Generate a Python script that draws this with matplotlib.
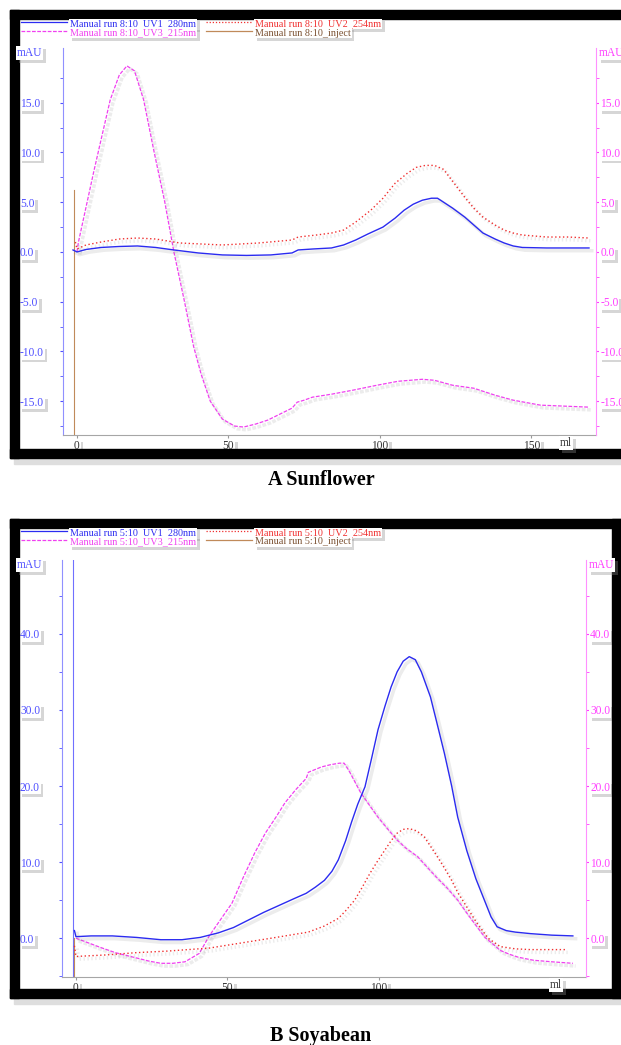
import matplotlib
matplotlib.use("Agg")
import matplotlib.pyplot as plt
import matplotlib.patheffects as pe
from matplotlib.patches import Rectangle
from matplotlib.lines import Line2D
from matplotlib.ticker import FixedLocator, FormatStrFormatter

plt.rcParams['font.family'] = ['Liberation Serif', 'DejaVu Serif']
plt.rcParams['axes.unicode_minus'] = False

# --- data: A Sunflower (run 8:10) ---
a_uv1_x = [-1.3, 0, 3, 8, 14, 20, 26, 32, 40, 48, 56, 64, 71, 73, 78, 84, 88, 92, 96, 101, 105, 108,
           111, 114, 117, 119, 121, 124, 128, 131, 134, 138, 141, 144, 147, 155, 162, 169]
a_uv1_y = [0.2, 0.0, 0.25, 0.45, 0.55, 0.6, 0.45, 0.2, -0.1, -0.3, -0.35, -0.3, -0.1, 0.2, 0.3, 0.4, 0.7,
           1.2, 1.8, 2.5, 3.4, 4.2, 4.8, 5.2, 5.4, 5.4, 5.0, 4.4, 3.5, 2.7, 1.9, 1.3, 0.9, 0.6, 0.45, 0.4, 0.4, 0.4]
a_uv2_x = [-0.5, 0, 3, 8, 14, 20, 26, 34, 48, 60, 71, 73, 79, 84, 88, 92, 97, 101, 105, 109, 112, 115,
           118, 121, 124, 128, 131, 134, 138, 141, 144, 147, 155, 162, 169]
a_uv2_y = [1.0, 0.3, 0.7, 1.0, 1.3, 1.4, 1.3, 0.9, 0.7, 0.9, 1.2, 1.5, 1.7, 1.9, 2.2, 3.0, 4.2, 5.4, 6.9,
           7.9, 8.5, 8.7, 8.7, 8.3, 7.1, 5.5, 4.4, 3.5, 2.7, 2.2, 1.9, 1.7, 1.5, 1.5, 1.4]
a_uv3_x = [0, 0.5, 3, 5.5, 8.5, 11, 14, 16.5, 19, 22, 25.5, 29, 32, 35.5, 38.5, 41, 44, 48, 52, 55, 59,
           63, 67, 71, 72.7, 75, 77.7, 84, 91, 99, 106, 114, 118, 124, 131, 138, 144, 153, 161, 169]
a_uv3_y = [0, 1.0, 4.5, 8.0, 12.0, 15.3, 17.8, 18.7, 18.2, 15.3, 10.0, 5.0, 0.0, -5.0, -9.5, -12.3, -15.0,
           -16.8, -17.5, -17.6, -17.3, -16.9, -16.3, -15.7, -15.1, -14.9, -14.6, -14.3, -13.9, -13.4, -13.0,
           -12.8, -12.9, -13.4, -13.7, -14.4, -14.9, -15.4, -15.5, -15.6]
a_inject_x = [-1.0, -1.0]
a_inject_y = [6.2, -19.0]
a_yticks = [-15, -10, -5, 0, 5, 10, 15]
a_xticks = [0, 50, 100, 150]

# --- data: B Soyabean (run 5:10) ---
b_uv1_x = [-0.5, 0, 5, 12, 20, 28, 35, 41, 47, 52, 57, 62, 67, 72, 76, 79, 82, 84.5, 86.6, 89, 91, 93,
           95.4, 97.5, 99.7, 102, 104, 106, 108, 110, 112, 114, 117, 119, 121.6, 124, 126, 129, 132, 135,
           137, 139, 142, 145, 150, 157, 164]
b_uv1_y = [1.0, 0.2, 0.3, 0.3, 0.1, -0.2, -0.2, 0.1, 0.7, 1.4, 2.4, 3.4, 4.3, 5.2, 5.9, 6.7, 7.6, 8.8,
           10.3, 12.8, 15.3, 17.6, 19.9, 23.5, 27.4, 30.5, 33.0, 35.0, 36.4, 37.0, 36.6, 35.0, 31.7, 28.5,
           24.3, 20.0, 15.9, 11.5, 7.8, 4.8, 2.8, 1.5, 1.0, 0.8, 0.6, 0.4, 0.3]
b_uv2_x = [-0.5, 0, 10, 20, 30, 44, 55, 66, 76.7, 82, 86.6, 89, 92, 94.5, 97, 99.5, 102, 104, 106, 108,
           110, 112.5, 115, 117, 119, 121.5, 124, 126, 129, 132, 136, 140, 145, 150, 156, 162]
b_uv2_y = [-1.0, -2.4, -2.2, -1.9, -1.7, -1.3, -0.6, 0.1, 0.8, 1.6, 2.6, 3.6, 5.0, 6.7, 8.5, 10.1, 11.6,
           12.8, 13.8, 14.3, 14.4, 14.1, 13.3, 12.1, 10.9, 9.3, 7.6, 6.0, 4.1, 2.2, 0.0, -1.1, -1.4, -1.5,
           -1.5, -1.5]
b_uv3_x = [0, 4, 8, 13, 19, 24, 28, 32, 36, 40.7, 44, 48, 51.5, 55, 59, 62.5, 66, 69, 72.5, 76, 76.7, 81,
           84, 87, 88.5, 90, 92, 94, 97, 99.7, 103, 106, 109, 112.8, 116, 119, 122.5, 126, 129, 132, 135,
           138, 140, 143, 146, 151, 157, 164]
b_uv3_y = [0.0, -0.6, -1.2, -1.9, -2.5, -3.0, -3.3, -3.3, -3.1, -2.0, 0.3, 2.6, 4.6, 7.8, 11.2, 13.8,
           15.9, 17.8, 19.5, 21.0, 21.8, 22.5, 22.8, 23.0, 23.0, 22.1, 20.6, 19.1, 17.4, 15.9, 14.3, 12.9,
           11.8, 10.7, 9.3, 8.0, 6.6, 5.0, 3.3, 1.7, 0.1, -0.9, -1.6, -2.1, -2.5, -2.9, -3.1, -3.3]
b_inject_x = [-0.5, -0.5]
b_inject_y = [0.0, -6.0]
b_mark_x = -1.0
b_yticks = [0, 10, 20, 30, 40]
b_xticks = [0, 50, 100]

legend_a = ["Manual run 8:10_UV1_280nm", "Manual run 8:10_UV3_215nm",
            "Manual run 8:10_UV2_254nm", "Manual run 8:10_inject"]
legend_b = ["Manual run 5:10_UV1_280nm", "Manual run 5:10_UV3_215nm",
            "Manual run 5:10_UV2_254nm", "Manual run 5:10_inject"]

C_UV1 = '#2b2bf0'
C_UV2 = '#f03030'
C_UV3 = '#f040f0'
C_INJ = '#c08a5a'
C_LAX = '#5050ff'
C_RAX = '#ff40ff'
FS = 8.3

W, H = 621, 1045
fig = plt.figure(figsize=(W / 100, H / 100), dpi=100)

shadow = [pe.SimplePatchShadow(offset=(2, -2), shadow_rgbFace='0.55', alpha=0.35), pe.Normal()]
line_shadow = [pe.SimpleLineShadow(offset=(2, -2), shadow_color='0.5', alpha=0.15, linewidth=2.5), pe.Normal()]


def box(x0, y0, x1, y1, color):
    fig.patches.append(Rectangle((x0 / W, 1 - y1 / H), (x1 - x0) / W, (y1 - y0) / H,
                                 transform=fig.transFigure, color=color, zorder=0))


def ftext(x, y, s, color, size=7.3, ha='left', weight='normal', shade=True):
    t = fig.text(x / W, 1 - y / H, s, color=color, fontsize=size, ha=ha, va='center', weight=weight)
    if shade:
        t.set_bbox(dict(fc='white', ec='none', pad=0.6))
        t.get_bbox_patch().set_path_effects(shadow)
    return t


def fline(x0, x1, y, color, ls):
    fig.add_artist(Line2D([x0 / W, x1 / W], [1 - y / H, 1 - y / H], color=color, lw=0.9, ls=ls,
                          transform=fig.transFigure))


def frame(x0, y0, x1, y1, t):
    box(x0 + 4, y1, x1 + 4, y1 + 6, '0.87')
    box(x0, y0, x1, y0 + t, 'black')
    box(x0, y1 - t, x1, y1, 'black')
    box(x0, y0, x0 + t, y1, 'black')
    box(x1 - t, y0, x1, y1, 'black')


def shade_labels(labels):
    for lab in labels:
        lab.set_bbox(dict(fc='white', ec='none', pad=0.5))
        lab.get_bbox_patch().set_path_effects(shadow)


def panel(px, ylim, yticks, xticks, ml_x, data, inject, legend, top_y, mark=None):
    l, r, t, b = px
    ax = fig.add_axes([l / W, 1 - b / H, (r - l) / W, (b - t) / H])
    ax.set_facecolor('none')
    (x1, y1), (x2, y2), (x3, y3) = data
    if mark is not None:
        ax.axvline(mark, color='#7070ff', lw=0.8)
    ax.plot(inject[0], inject[1], color=C_INJ, lw=0.8)
    ax.plot(x3, y3, color=C_UV3, lw=0.9, ls=(0, (3, 1.2)), path_effects=line_shadow)
    ax.plot(x2, y2, color=C_UV2, lw=1.0, ls=(0, (1, 1.8)), path_effects=line_shadow)
    ax.plot(x1, y1, color=C_UV1, lw=1.0, path_effects=line_shadow)
    ax.set_xlim(-4.6, (r - l) / 3.03 - 4.6)
    ax.set_ylim(*ylim)
    ax.set_xticks(xticks)
    ax.xaxis.set_major_formatter(FormatStrFormatter('%d'))
    ax.tick_params(axis='x', length=2, color='0.6', labelsize=FS, labelcolor='0.2', pad=1.5)
    for s in ('top', 'right'):
        ax.spines[s].set_visible(False)
    ax.spines['bottom'].set_color('0.65')
    ax.spines['left'].set_color('#9090ff')
    step = yticks[1] - yticks[0]
    minors = [v + step / 2 for v in [yticks[0] - step] + yticks]
    minors = [v for v in minors if ylim[0] <= v <= ylim[1]]
    ax.yaxis.set_major_locator(FixedLocator(yticks))
    ax.yaxis.set_minor_locator(FixedLocator(minors))
    ax.yaxis.set_major_formatter(FormatStrFormatter('%.1f'))
    ax.tick_params(axis='y', which='both', length=2, color=C_LAX, labelsize=FS, labelcolor=C_LAX,
                   pad=(l - 20) * 0.72 - 2)
    for lab in ax.get_yticklabels():
        lab.set_ha('left')
    shade_labels(ax.get_yticklabels())
    shade_labels(ax.get_xticklabels())

    ax2 = ax.twinx()
    ax2.set_ylim(*ylim)
    for s in ('top', 'left', 'bottom'):
        ax2.spines[s].set_visible(False)
    ax2.spines['right'].set_color('#ff90ff')
    ax2.yaxis.set_major_locator(FixedLocator(yticks))
    ax2.yaxis.set_minor_locator(FixedLocator(minors))
    ax2.yaxis.set_major_formatter(FormatStrFormatter('%.1f'))
    ax2.tick_params(axis='y', which='both', length=2, color=C_RAX, labelsize=FS, labelcolor=C_RAX, pad=1)
    shade_labels(ax2.get_yticklabels())

    ftext(17, t + 5, 'mAU', C_LAX, size=FS)
    ftext(r + 3, t + 5, 'mAU', C_RAX, size=FS)
    ftext(ml_x, b + 8, 'ml', '0.2', size=FS)

    # legend
    fline(21, 67, top_y, C_UV1, '-')
    fline(21, 67, top_y + 9, C_UV3, (0, (3, 1.2)))
    fline(206, 252, top_y, C_UV2, (0, (1, 1.5)))
    fline(206, 252, top_y + 9, C_INJ, '-')
    ftext(70, top_y + 2, legend[0], C_UV1)
    ftext(70, top_y + 11, legend[1], C_UV3)
    ftext(255, top_y + 2, legend[2], C_UV2)
    ftext(255, top_y + 11, legend[3], '#7a5030')
    return ax


# frames
frame(10, 10, 640, 458, 9)
frame(10, 519, 621, 998, 9)

panel((63, 596, 48, 435), (-18.4, 20.5), a_yticks, a_xticks, 560,
      [(a_uv1_x, a_uv1_y), (a_uv2_x, a_uv2_y), (a_uv3_x, a_uv3_y)],
      (a_inject_x, a_inject_y), legend_a, 22)
panel((62, 586, 560, 977), (-5.1, 49.7), b_yticks, b_xticks, 550,
      [(b_uv1_x, b_uv1_y), (b_uv2_x, b_uv2_y), (b_uv3_x, b_uv3_y)],
      (b_inject_x, b_inject_y), legend_b, 531, mark=b_mark_x)

ftext(321, 480, 'A Sunflower', 'black', size=14.5, ha='center', weight='bold', shade=False)
ftext(321, 1036, 'B Soyabean', 'black', size=14.5, ha='center', weight='bold', shade=False)

fig.savefig('out.png', dpi=100)
